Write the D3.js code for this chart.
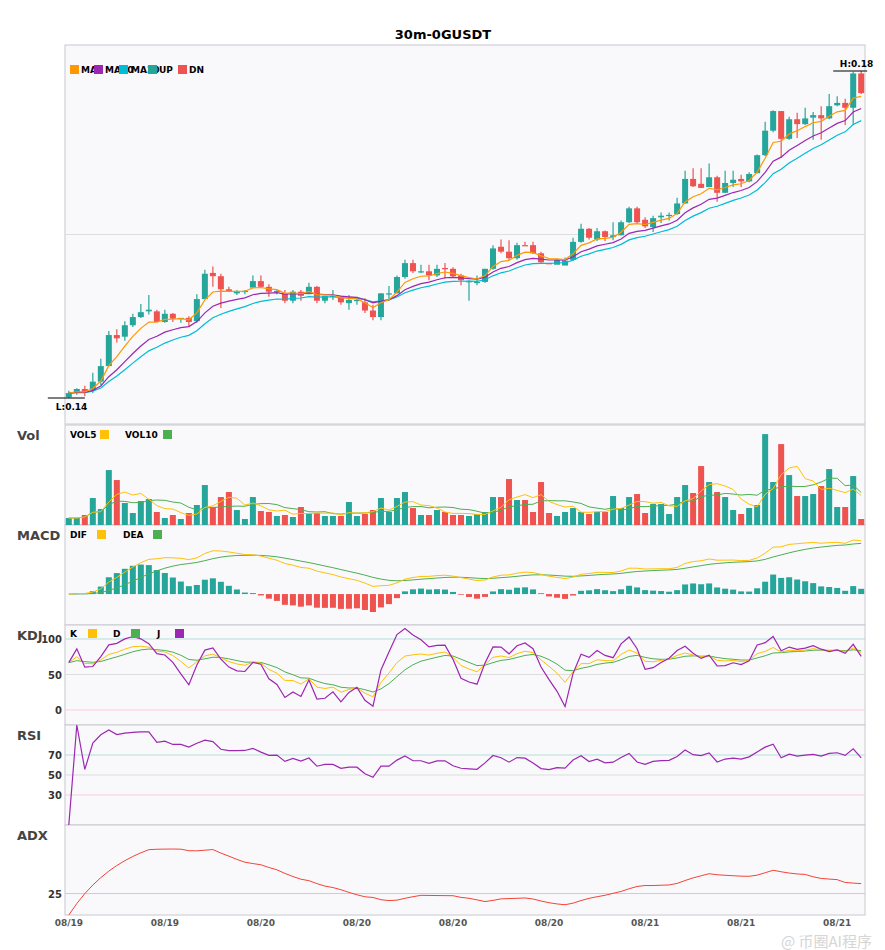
<!DOCTYPE html>
<html>
<head>
<meta charset="utf-8">
<script src="https://cdn.jsdelivr.net/npm/d3@7"></script>
<style>
  body { margin: 0; background: #fff; font-family: "DejaVu Sans", sans-serif; }
</style>
</head>
<body>
<svg id="chart" width="885" height="950"></svg>
<script>
// 30m candles
var open = [0.1401,0.1407,0.1411,0.1410,0.1420,0.1439,0.1477,0.1475,0.1489,0.1499,
  0.1506,0.1506,0.1493,0.1503,0.1497,0.1498,0.1494,0.1521,0.1553,0.1549,
  0.1533,0.1528,0.1530,0.1535,0.1543,0.1536,0.1530,0.1528,0.1519,0.1530,
  0.1527,0.1536,0.1519,0.1525,0.1524,0.1516,0.1519,0.1517,0.1507,0.1499,
  0.1527,0.1528,0.1548,0.1565,0.1555,0.1555,0.1550,0.1559,0.1558,0.1550,
  0.1543,0.1541,0.1542,0.1558,0.1585,0.1579,0.1571,0.1587,0.1587,0.1577,
  0.1565,0.1563,0.1562,0.1569,0.1591,0.1607,0.1594,0.1604,0.1597,0.1599,
  0.1615,0.1632,0.1618,0.1609,0.1621,0.1623,0.1625,0.1638,0.1668,0.1662,
  0.1658,0.1670,0.1651,0.1663,0.1668,0.1665,0.1675,0.1697,0.1727,0.1751,
  0.1717,0.1741,0.1735,0.1743,0.1746,0.1742,0.1758,0.1761,0.1755,0.1797];
var high = [0.1409,0.1412,0.1415,0.1431,0.1448,0.1482,0.1484,0.1494,0.1503,0.1515,
  0.1526,0.1508,0.1508,0.1504,0.1498,0.1500,0.1527,0.1557,0.1561,0.1552,
  0.1536,0.1532,0.1532,0.1550,0.1550,0.1539,0.1532,0.1532,0.1532,0.1532,
  0.1541,0.1537,0.1525,0.1532,0.1525,0.1526,0.1522,0.1522,0.1514,0.1528,
  0.1537,0.1550,0.1569,0.1569,0.1563,0.1563,0.1563,0.1565,0.1560,0.1552,
  0.1544,0.1550,0.1558,0.1587,0.1594,0.1593,0.1590,0.1591,0.1591,0.1579,
  0.1565,0.1570,0.1572,0.1596,0.1613,0.1608,0.1608,0.1605,0.1615,0.1617,
  0.1634,0.1634,0.1621,0.1623,0.1627,0.1627,0.1645,0.1678,0.1681,0.1681,
  0.1687,0.1672,0.1678,0.1678,0.1673,0.1676,0.1698,0.1738,0.1752,0.1751,
  0.1744,0.1749,0.1755,0.1750,0.1757,0.1772,0.1769,0.1766,0.1799,0.1800];
var low = [0.1400,0.1404,0.1402,0.1406,0.1416,0.1439,0.1468,0.1470,0.1487,0.1498,
  0.1502,0.1493,0.1492,0.1493,0.1492,0.1487,0.1492,0.1521,0.1536,0.1510,
  0.1530,0.1526,0.1527,0.1535,0.1535,0.1524,0.1527,0.1516,0.1516,0.1519,
  0.1527,0.1516,0.1516,0.1520,0.1514,0.1508,0.1514,0.1504,0.1495,0.1495,
  0.1519,0.1528,0.1546,0.1553,0.1553,0.1544,0.1548,0.1546,0.1548,0.1538,
  0.1519,0.1538,0.1541,0.1557,0.1577,0.1569,0.1569,0.1586,0.1576,0.1564,
  0.1564,0.1566,0.1564,0.1568,0.1590,0.1594,0.1592,0.1592,0.1593,0.1599,
  0.1614,0.1614,0.1608,0.1603,0.1614,0.1617,0.1624,0.1638,0.1658,0.1657,
  0.1658,0.1640,0.1651,0.1658,0.1658,0.1664,0.1675,0.1696,0.1725,0.1694,
  0.1716,0.1718,0.1734,0.1716,0.1716,0.1741,0.1757,0.1734,0.1734,0.1772];
var close = [0.1406,0.1411,0.1407,0.1420,0.1439,0.1477,0.1473,0.1489,0.1499,0.1505,
  0.1508,0.1493,0.1503,0.1497,0.1498,0.1493,0.1521,0.1552,0.1549,0.1533,
  0.1530,0.1530,0.1531,0.1543,0.1536,0.1530,0.1531,0.1519,0.1530,0.1525,
  0.1536,0.1519,0.1525,0.1525,0.1517,0.1520,0.1520,0.1507,0.1499,0.1528,
  0.1528,0.1548,0.1565,0.1555,0.1555,0.1550,0.1558,0.1558,0.1549,0.1544,
  0.1543,0.1542,0.1558,0.1583,0.1579,0.1571,0.1587,0.1586,0.1577,0.1566,
  0.1564,0.1569,0.1568,0.1591,0.1607,0.1596,0.1604,0.1597,0.1599,0.1615,
  0.1632,0.1615,0.1610,0.1620,0.1623,0.1624,0.1638,0.1668,0.1659,0.1657,
  0.1670,0.1651,0.1663,0.1667,0.1665,0.1674,0.1697,0.1727,0.1751,0.1717,
  0.1741,0.1735,0.1742,0.1746,0.1742,0.1757,0.1761,0.1755,0.1797,0.1773];
var volume = [7,7,10,27,16,55,45,22,12,24,26,13,7,10,6,12,20,40,18,28,
  33,15,6,28,14,13,9,10,8,18,12,12,9,9,9,23,9,11,15,27,
  13,27,33,17,10,10,15,13,10,10,9,11,13,28,28,46,25,25,13,43,
  12,9,13,17,13,11,13,13,29,17,28,31,12,21,21,11,28,40,32,59,
  43,33,28,15,11,17,20,91,43,81,50,29,29,31,39,56,18,18,49,6];
var tickIdx = [0,12,24,36,48,60,72,84,96];
var tickLabels = ["08/19","08/19","08/20","08/20","08/20","08/20","08/21","08/21","08/21"];

var UP = "#26a69a", DN = "#ef5350";
var n = close.length;
var idx = d3.range(n);

// ---- indicators derived from the candles ----
function sma(arr, p) {
  return arr.map(function (v, i) { return d3.mean(arr.slice(Math.max(0, i - p + 1), i + 1)); });
}
function ema(arr, p) {
  var k = 2 / (p + 1), out = [];
  arr.forEach(function (v, i) { out.push(i === 0 ? v : v * k + out[i - 1] * (1 - k)); });
  return out;
}
var ma5 = ema(close, 5), ma10 = ema(close, 10), ma20 = ema(close, 15);
var vol5 = sma(volume, 5), vol10 = sma(volume, 10);
var e12 = ema(close, 12), e26 = ema(close, 26);
var dif = e12.map(function (v, i) { return v - e26[i]; });
var dea = ema(dif, 9);
var hist = dif.map(function (v, i) { return 2 * (v - dea[i]); });

var K = [], D = [], J = [];
idx.forEach(function (i) {
  var s = Math.max(0, i - 8);
  var hh = d3.max(high.slice(s, i + 1)), ll = d3.min(low.slice(s, i + 1));
  var rsv = hh === ll ? 50 : (close[i] - ll) / (hh - ll) * 100;
  var k = i === 0 ? rsv : (2 * K[i - 1] + rsv) / 3;
  var d = i === 0 ? rsv : (2 * D[i - 1] + k) / 3;
  K.push(k); D.push(d); J.push(3 * k - 2 * d);
});

// RSI 14: plain average while warming up, Wilder smoothing afterwards
var rsi = [0], ag = 0, al = 0;
for (var i = 1; i < n; i++) {
  var ch = close[i] - close[i - 1];
  var g = Math.max(ch, 0), l = Math.max(-ch, 0);
  if (i <= 14) { ag = (ag * (i - 1) + g) / i; al = (al * (i - 1) + l) / i; }
  else { ag = (ag * 13 + g) / 14; al = (al * 13 + l) / 14; }
  rsi.push(ag + al === 0 ? 50 : ag / (ag + al) * 100);
}

var adx = [0], sTR = 0, sP = 0, sM = 0, ax = 0;
for (var i = 1; i < n; i++) {
  var tr = Math.max(high[i] - low[i], Math.abs(high[i] - close[i - 1]), Math.abs(low[i] - close[i - 1]));
  var up = high[i] - high[i - 1], dn = low[i - 1] - low[i];
  var pdm = up > dn && up > 0 ? up : 0, mdm = dn > up && dn > 0 ? dn : 0;
  sTR = sTR - sTR / 14 + tr; sP = sP - sP / 14 + pdm; sM = sM - sM / 14 + mdm;
  var pdi = sP / sTR * 100, mdi = sM / sTR * 100;
  var dx = pdi + mdi === 0 ? 0 : Math.abs(pdi - mdi) / (pdi + mdi) * 100;
  ax = ax + (dx - ax) * 2 / 15;
  adx.push(ax);
}

// ---- layout ----
var svg = d3.select("#chart");
var left = 65, right = 865;
var panels = [
  { name: "", top: 45, bottom: 424 },
  { name: "Vol", top: 425, bottom: 525 },
  { name: "MACD", top: 525, bottom: 625 },
  { name: "KDJ", top: 625, bottom: 725 },
  { name: "RSI", top: 725, bottom: 825 },
  { name: "ADX", top: 825, bottom: 915 }
];

var x = d3.scaleBand().domain(idx).range([left, right]).paddingInner(0.25).paddingOuter(0.1);
var cx = function (i) { return x(i) + x.bandwidth() / 2; };

svg.append("text").attr("x", 443).attr("y", 39).attr("text-anchor", "middle")
  .style("font-size", "13px").style("font-weight", "bold").text("30m-0GUSDT");

panels.forEach(function (p) {
  svg.append("rect").attr("x", left).attr("y", p.top).attr("width", right - left)
    .attr("height", p.bottom - p.top).attr("fill", "#f9f9fc").attr("stroke", "#c8c8d0");
  if (p.name) svg.append("text").attr("x", 17).attr("y", p.top + 15)
    .style("font-size", "13px").style("font-weight", "bold").attr("fill", "#444").text(p.name);
});

function line(g, data, yS, color, w) {
  g.append("path").datum(data).attr("fill", "none").attr("stroke", color).attr("stroke-width", w || 1.2)
    .attr("d", d3.line().x(function (d, i) { return cx(i); }).y(function (d) { return yS(d); }));
}
function legend(items, y) {
  items.forEach(function (it) {
    svg.append("text").attr("x", it[1]).attr("y", y + 4).style("font-size", "9px")
      .style("font-weight", "bold").text(it[0]);
    svg.append("rect").attr("x", it[3]).attr("y", y - 4).attr("width", 9).attr("height", 9).attr("fill", it[2]);
  });
}
function hline(yv, color) {
  svg.append("line").attr("x1", left).attr("x2", right).attr("y1", yv).attr("y2", yv).attr("stroke", color);
}
function ylabel(txt, yv) {
  svg.append("text").attr("x", 62).attr("y", yv + 4).attr("text-anchor", "end")
    .style("font-size", "10px").style("font-weight", "bold").attr("fill", "#333").text(txt);
}

// ---- price ----
var yP = d3.scaleLinear().domain([d3.min(low), d3.max(high)]).range([398, 71]);
hline(yP(0.16), "#dddddd");
var gP = svg.append("g");
gP.selectAll(".wick").data(idx).join("line")
  .attr("x1", cx).attr("x2", cx).attr("y1", function (i) { return yP(high[i]); })
  .attr("y2", function (i) { return yP(low[i]); })
  .attr("stroke", function (i) { return close[i] >= open[i] ? UP : DN; }).attr("stroke-width", 1.2);
gP.selectAll(".body").data(idx).join("rect")
  .attr("x", function (i) { return x(i); }).attr("width", x.bandwidth())
  .attr("y", function (i) { return yP(Math.max(open[i], close[i])); })
  .attr("height", function (i) { return Math.max(1.2, Math.abs(yP(open[i]) - yP(close[i]))); })
  .attr("fill", function (i) { return close[i] >= open[i] ? UP : DN; });
line(gP, ma20, yP, "#00bcd4");
line(gP, ma10, yP, "#9c27b0");
line(gP, ma5, yP, "#ff9800");
legend([["MA5", 81, "#ff9800", 70], ["MA10", 105, "#9c27b0", 94], ["MA20", 131, "#00bcd4", 119],
        ["UP", 159, UP, 148], ["DN", 189, DN, 178]], 69);
var iH = d3.maxIndex(high), iL = d3.minIndex(low);
svg.append("line").attr("x1", cx(iH) - 28).attr("x2", cx(iH) + 6).attr("y1", yP(high[iH])).attr("y2", yP(high[iH])).attr("stroke", "#000").attr("stroke-width", 1.2);
svg.append("text").attr("x", cx(iH) + 12).attr("y", yP(high[iH]) - 4).attr("text-anchor", "end")
  .style("font-size", "9px").style("font-weight", "bold").text("H:" + high[iH].toFixed(2));
svg.append("line").attr("x1", cx(iL) - 21).attr("x2", cx(iL) + 16).attr("y1", yP(low[iL])).attr("y2", yP(low[iL])).attr("stroke", "#000").attr("stroke-width", 1.2);
svg.append("text").attr("x", cx(iL) - 13).attr("y", yP(low[iL]) + 12)
  .style("font-size", "9px").style("font-weight", "bold").text("L:" + low[iL].toFixed(2));

// ---- volume ----
var yV = d3.scaleLinear().domain([0, d3.max(volume) * 1.1]).range([525, 425]);
var gV = svg.append("g");
gV.selectAll("rect").data(idx).join("rect")
  .attr("x", function (i) { return x(i); }).attr("width", x.bandwidth())
  .attr("y", function (i) { return yV(volume[i]); }).attr("height", function (i) { return 525 - yV(volume[i]); })
  .attr("fill", function (i) { return close[i] >= open[i] ? UP : DN; });
line(gV, vol10, yV, "#4caf50", 1);
line(gV, vol5, yV, "#ffc107", 1);
legend([["VOL5", 70, "#ffc107", 100], ["VOL10", 125, "#4caf50", 163]], 434);

// ---- MACD ----
var mAll = dif.concat(dea, hist);
var yM = d3.scaleLinear().domain(d3.extent(mAll)).range([612, 540]);
var gM = svg.append("g");
gM.selectAll("rect").data(idx).join("rect")
  .attr("x", function (i) { return x(i); }).attr("width", x.bandwidth())
  .attr("y", function (i) { return Math.min(yM(0), yM(hist[i])); })
  .attr("height", function (i) { return Math.abs(yM(hist[i]) - yM(0)); })
  .attr("fill", function (i) { return hist[i] >= 0 ? UP : DN; });
line(gM, dea, yM, "#4caf50", 1);
line(gM, dif, yM, "#ffc107", 1);
legend([["DIF", 70, "#ffc107", 97], ["DEA", 123, "#4caf50", 153]], 534);

// ---- KDJ ----
var yK = d3.scaleLinear().domain([0, 100]).range([710, 639]);
hline(yK(100), "#b2dfdb"); hline(yK(50), "#dddddd"); hline(yK(0), "#ffcdd2");
ylabel("100", yK(100)); ylabel("50", yK(50)); ylabel("0", yK(0));
var gK = svg.append("g");
line(gK, D, yK, "#4caf50", 1);
line(gK, K, yK, "#ffc107", 1);
line(gK, J, yK, "#9c27b0", 1.2);
legend([["K", 70, "#ffc107", 88], ["D", 113, "#4caf50", 131], ["J", 157, "#9c27b0", 175]], 633);

// ---- RSI ----
var yR = d3.scaleLinear().domain([0, 100]).range([825, 725]);
hline(yR(70), "#b2dfdb"); hline(yR(50), "#dddddd"); hline(yR(30), "#ffcdd2");
ylabel("70", yR(70)); ylabel("50", yR(50)); ylabel("30", yR(30));
line(svg.append("g"), rsi, yR, "#9c27b0", 1.2);

// ---- ADX ----
var yA = d3.scaleLinear().domain([0, d3.max(adx)]).range([915, 849]);
hline(yA(25), "#e1bee7");
ylabel("25", yA(25));
line(svg.append("g"), adx, yA, "#f44336", 1);

// ---- x labels ----
svg.selectAll(".xl").data(tickIdx).join("text")
  .attr("x", cx).attr("y", 926).attr("text-anchor", "middle")
  .style("font-size", "9px").style("font-weight", "bold").attr("fill", "#555")
  .text(function (d, i) { return tickLabels[i]; });

// watermark
svg.append("text").attr("x", 872).attr("y", 947).attr("text-anchor", "end")
  .style("font-family", "'Noto Sans CJK SC'").style("font-size", "15px")
  .attr("fill", "#cccccc").attr("opacity", 0.8).text("@ 币圈AI程序");
</script>
</body>
</html>
